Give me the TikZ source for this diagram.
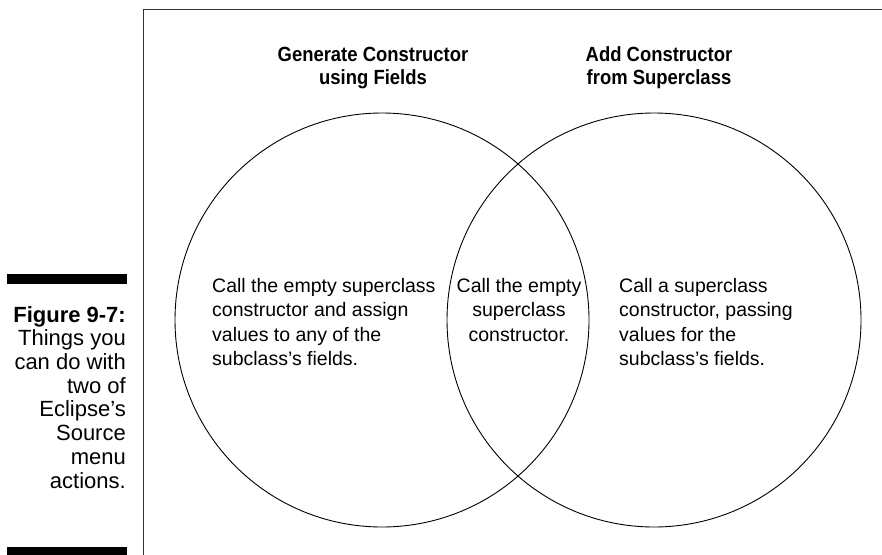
\documentclass[tikz,border=0pt]{standalone}
\usepackage{fontspec}
\setmainfont{Liberation Sans}
\newfontfamily\titulofont{Liberation Sans}[FakeStretch=0.9]
\usepackage{tikz}
\usetikzlibrary{positioning}

\begin{document}
\begin{tikzpicture}[x=1pt, y=-1pt,
            conjunto/.style={circle, draw=black, line width=0.9pt, minimum size=414pt, inner sep=0pt},
            titulo/.style={align=center, font=\titulofont\fontsize{20.5}{23}\selectfont\bfseries},
            texto/.style={align=left, font=\fontsize{19.5}{24.6}\selectfont, inner sep=0pt},
            leyenda/.style={align=right, font=\fontsize{22}{23.7}\selectfont, inner sep=0pt},
            barra/.style={fill=black},
            marco/.style={draw=black!80, line width=0.8pt}
        ]
            \useasboundingbox (0,0) rectangle (882,554);

            % Marco
            \coordinate (marco_top) at (143,9);
            \coordinate (marco_bot) at (143,560);
            \coordinate (marco_der) at (885,9);
            \draw[marco] (marco_bot) -- (marco_top) -- (marco_der);

            % Barras de la leyenda
            \fill[barra] (7,274) rectangle (127,284);
            \fill[barra] (7,547) rectangle (127,560);

            % Leyenda
            \node[leyenda, anchor=north east] (leyenda) at (126,306)
                {\textbf{Figure 9-7:}\\Things you\\can do with\\two of\\Eclipse’s\\Source\\menu\\actions.};

            % Conjuntos
            \node[conjunto] (generar) at (382,320) {};
            \node[conjunto] (agregar) at (654,320) {};

            % Titulos
            \node[titulo] (tit_generar) at (373,68) {Generate Constructor\\using Fields};
            \node[titulo] (tit_agregar) at (659,68) {Add Constructor\\from Superclass};

            % Textos
            \node[texto, anchor=west] (txt_generar) at (212,322)
                {Call the empty superclass\\constructor and assign\\values to any of the\\subclass’s fields.};
            \node[texto, align=center] (txt_ambos) at (519,310)
                {Call the empty\\superclass\\constructor.};
            \node[texto, anchor=west] (txt_agregar) at (619,322)
                {Call a superclass\\constructor, passing\\values for the\\subclass’s fields.};

        \end{tikzpicture}
\end{document}
